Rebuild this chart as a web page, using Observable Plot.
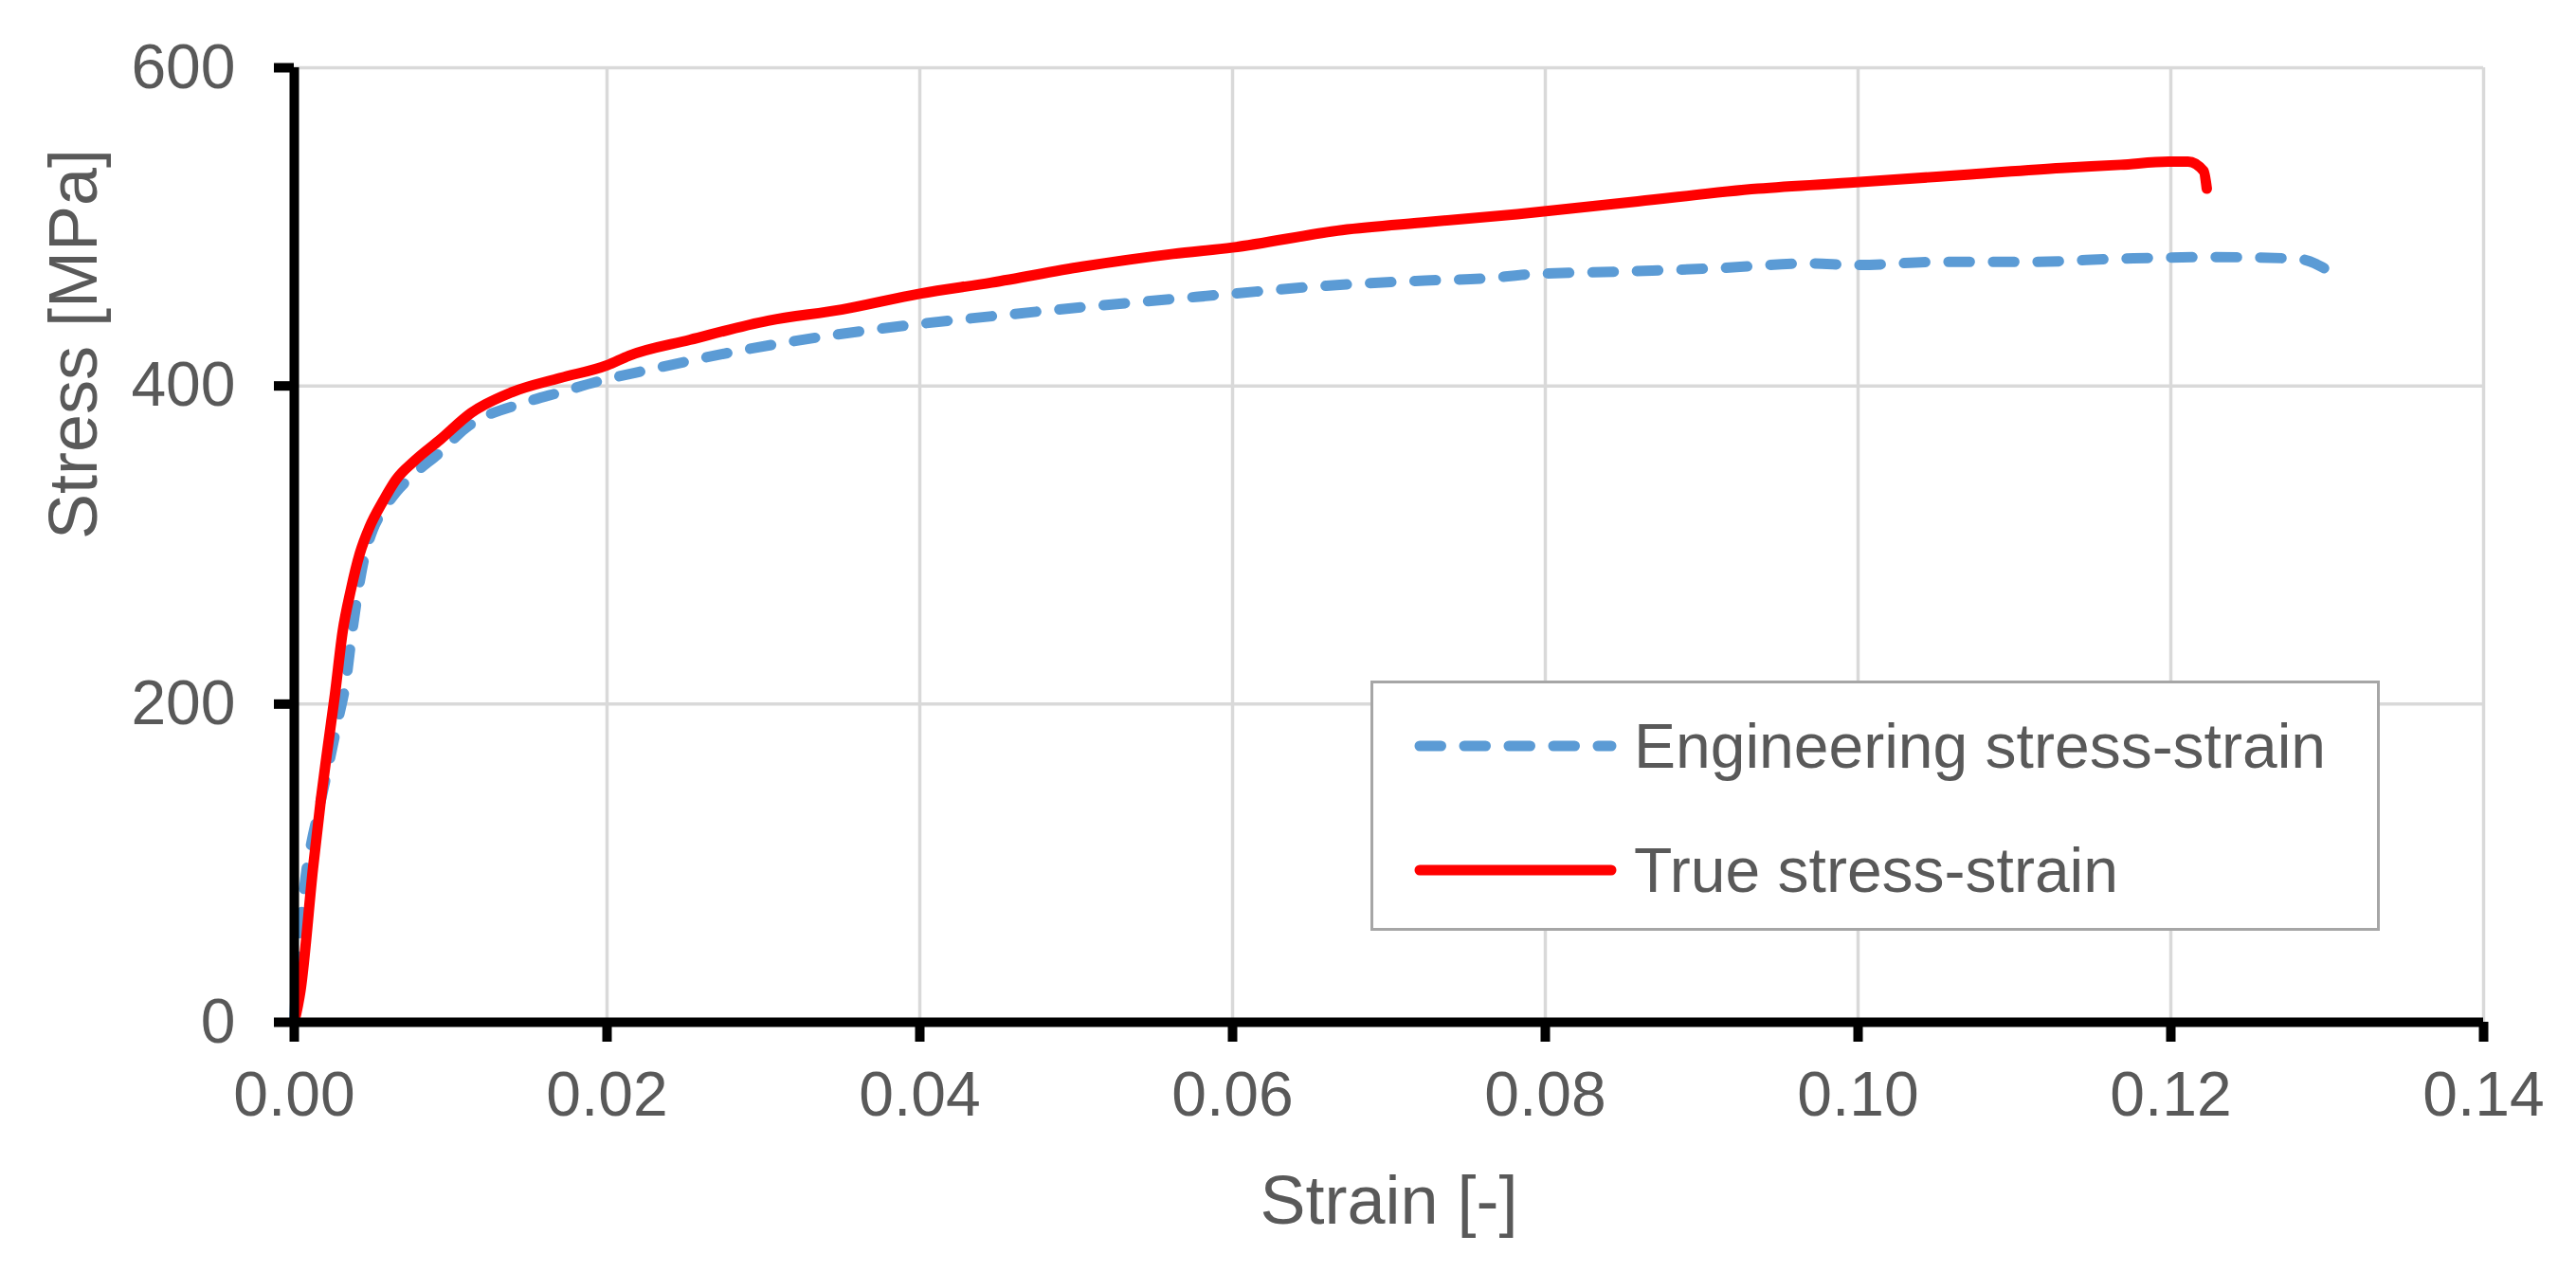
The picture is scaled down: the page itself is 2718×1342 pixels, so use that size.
<!DOCTYPE html>
<html>
<head>
<meta charset="utf-8">
<script src="https://cdn.jsdelivr.net/npm/d3@7"></script>
<script src="https://cdn.jsdelivr.net/npm/@observablehq/plot@0.6"></script>
<style>
  html, body { margin: 0; padding: 0; background: #fff; }
  #wrap { position: relative; width: 2718px; height: 1342px; font-family: "Liberation Sans", Arial, sans-serif; }
  #legend { position: absolute; left: 1446px; top: 718px; width: 1059px; height: 258px;
            border: 3px solid #a6a6a6; background: #fff; box-sizing: content-box; }
  .row { position: absolute; left: 0; height: 80px; display: flex; align-items: center; }
  .row svg { display: block; margin-left: 43px; margin-right: 18px; }
  .row span { font-size: 66px; color: #595959; white-space: nowrap; }
</style>
</head>
<body>
<div id="wrap"></div>
<script>
// ---- data ----
const xTicks = [0, 0.02, 0.04, 0.06, 0.08, 0.10, 0.12, 0.14];
const yTicks = [0, 200, 400, 600];

const seriesNames = ["Engineering stress-strain", "True stress-strain"];

const engStrain = [0, 0.0002, 0.0005, 0.0008, 0.0011, 0.0016, 0.0022, 0.0028, 0.0033, 0.0037, 0.0041, 0.0045, 0.0050, 0.0057, 0.0065, 0.0077, 0.0093, 0.0109, 0.0149, 0.0170, 0.0195, 0.0226, 0.0284, 0.0338, 0.0400, 0.0458, 0.0509, 0.0566, 0.0600, 0.0660, 0.0717, 0.0767, 0.0787, 0.0852, 0.0910, 0.0968, 0.0999, 0.1052, 0.1110, 0.1168, 0.1226, 0.1280, 0.1292, 0.1302, 0.1304];
const engStress = [0, 38, 72, 97, 113, 135, 162, 190, 214, 245, 272, 293, 309, 322, 333, 345, 358, 373, 390, 396, 403, 410, 422, 431, 439, 445, 450, 455, 458, 463, 466, 468, 470, 472, 474, 477, 476, 478, 478, 480, 481, 480, 477, 470, 463];

const trueStrain = [0, 0.0004, 0.0012, 0.0017, 0.0021, 0.0026, 0.0031, 0.0036, 0.0042, 0.0048, 0.0057, 0.0065, 0.0077, 0.0093, 0.0113, 0.0139, 0.0170, 0.0200, 0.0214, 0.0253, 0.0303, 0.0350, 0.0400, 0.0446, 0.0504, 0.0562, 0.0600, 0.0670, 0.0725, 0.0782, 0.0859, 0.0936, 0.0999, 0.1072, 0.1130, 0.1168, 0.1199, 0.1211, 0.1221, 0.1223];
const trueStress = [0, 20, 97, 140, 170, 206, 246, 271, 295, 311, 328, 341, 353, 366, 383, 396, 405, 413, 419, 429, 441, 448, 458, 465, 475, 483, 487, 498, 503, 508, 516, 524, 528, 533, 537, 539, 541, 541, 535, 524];

const eng = engStrain.map((s, i) => ({strain: s, stress: engStress[i]}));
const tru = trueStrain.map((s, i) => ({strain: s, stress: trueStress[i]}));

const blue = "#5b9bd5", red = "#ff0000", grey = "#595959";

const chart = Plot.plot({
  width: 2718,
  height: 1342,
  marginLeft: 310,
  marginRight: 98,
  marginTop: 71,
  marginBottom: 264,
  style: {fontFamily: "Liberation Sans, Arial, sans-serif", background: "#fff", overflow: "visible"},
  x: {domain: [0, 0.14]},
  y: {domain: [0, 600]},
  marks: [
    Plot.gridX(xTicks, {stroke: "#d9d9d9", strokeOpacity: 1, strokeWidth: 3.5}),
    Plot.gridY(yTicks, {stroke: "#d9d9d9", strokeOpacity: 1, strokeWidth: 3.5}),
    Plot.line(eng, {x: "strain", y: "stress", curve: "monotone-x", stroke: blue, strokeWidth: 11, strokeDasharray: "22.5 24.5", strokeLinecap: "round", strokeLinejoin: "round"}),
    Plot.line(tru, {x: "strain", y: "stress", curve: "monotone-x", stroke: red, strokeWidth: 11, strokeLinecap: "round", strokeLinejoin: "round"}),
    Plot.ruleX([0], {stroke: "#000", strokeWidth: 10}),
    Plot.ruleY([0], {stroke: "#000", strokeWidth: 10}),
    Plot.axisX({ticks: xTicks, tickFormat: d3.format(".2f"), tickSize: 21, tickPadding: 31, fontSize: 66, stroke: "#000", strokeWidth: 10, fill: grey, label: null}),
    Plot.axisY({ticks: yTicks, tickFormat: d3.format("d"), tickSize: 21, tickPadding: 41, fontSize: 66, stroke: "#000", strokeWidth: 10, fill: grey, label: null}),
    Plot.text(["Strain [-]"], {frameAnchor: "bottom", lineAnchor: "bottom", dy: 212, fontSize: 72, fill: grey}),
    Plot.text(["Stress [MPa]"], {frameAnchor: "left", rotate: -90, dx: -232, dy: -6, fontSize: 72, fill: grey})
  ]
});

const wrap = document.getElementById("wrap");
wrap.appendChild(chart);

// legend (HTML overlay)
const legend = document.createElement("div");
legend.id = "legend";
const rows = [
  {name: seriesNames[0], color: blue, dash: "22.5 24.5", top: 26},
  {name: seriesNames[1], color: red, dash: null, top: 157}
];
for (const r of rows) {
  const row = document.createElement("div");
  row.className = "row";
  row.style.top = r.top + "px";
  const svg = d3.create("svg").attr("width", 214).attr("height", 30);
  svg.append("line").attr("x1", 6).attr("x2", 208).attr("y1", 15).attr("y2", 15)
    .attr("stroke", r.color).attr("stroke-width", 11).attr("stroke-linecap", "round")
    .attr("stroke-dasharray", r.dash);
  row.appendChild(svg.node());
  const span = document.createElement("span");
  span.textContent = r.name;
  row.appendChild(span);
  legend.appendChild(row);
}
wrap.appendChild(legend);
</script>
</body>
</html>
